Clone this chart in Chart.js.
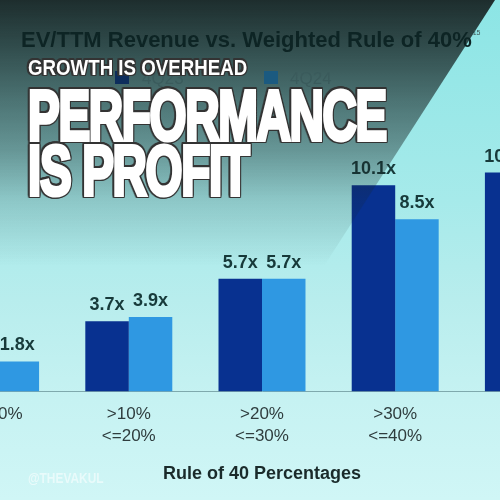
<!DOCTYPE html>
<html>
<head>
<meta charset="utf-8">
<script src="https://cdn.jsdelivr.net/npm/chart.js@4.4.1/dist/chart.umd.min.js"></script>
<style>
  html, body { margin: 0; padding: 0; }
  body {
    width: 500px; height: 500px; overflow: hidden; position: relative;
    background: linear-gradient(to bottom, #8ce5e5 0%, #a6eaea 40%, #b8eded 60%, #c6f2f2 80%, #d0f6f6 100%);
    font-family: 'Liberation Sans', Arial, sans-serif;
  }
  #chart-wrap { position: absolute; left: -71px; top: 0; width: 666px; height: 500px; }
  #shade {
    position: absolute; left: 0; top: 0; width: 500px; height: 280px;
    clip-path: polygon(0 0, 495px 0, 315px 280px, 0 280px);
    background: linear-gradient(to bottom,
      rgba(25,38,38,0.96) 0%, rgba(25,38,38,0.82) 15%, rgba(25,38,38,0.6) 36%,
      rgba(25,38,38,0.42) 54%, rgba(25,38,38,0.18) 71%, rgba(25,38,38,0) 95%);
  }
  #title {
    position: absolute; left: 21px; top: 29px; white-space: nowrap;
    font: bold 22px/1 'Liberation Sans', Arial, sans-serif; color: #0d2424;
  }
  #title sup { font-size: 7px; font-weight: normal; color: #3e5656; vertical-align: 12px; margin-left: 1px; }
  .lg-box { position: absolute; width: 14px; height: 13px; top: 71px; }
  .lg-text { position: absolute; top: 70px; font: 17px/1 'Liberation Sans', Arial, sans-serif; color: #3b5b5c; }
  .poster { position: absolute; color: #fff; white-space: nowrap;
    font-family: 'Liberation Sans', Arial, sans-serif; font-weight: bold; transform-origin: 0 0;
    filter: drop-shadow(1.2px 0 0 #333) drop-shadow(-1.2px 0 0 #333) drop-shadow(0 1.2px 0 #333) drop-shadow(0 -1.2px 0 #333);
  }
  #kicker { left: 28px; top: 57px; font-size: 22px; line-height: 1; transform: scaleX(0.85); }
  #headline { left: 28px; top: 88px; font-size: 71px; line-height: 55px; letter-spacing: -2px;
    -webkit-text-stroke: 4px #fff; transform: scaleX(0.67); }
  #tag { position: absolute; left: 28px; top: 471px; font: bold 14px/1 'Liberation Sans', sans-serif;
    color: rgba(255,255,255,0.55); transform: scaleX(0.85); transform-origin: 0 0; }
</style>
</head>
<body>
<div id="chart-wrap"><canvas id="chart"></canvas></div>
<div id="shade"></div>
<div id="title">EV/TTM Revenue vs. Weighted Rule of 40%<sup>15</sup></div>
<div class="lg-box" style="left:115px;background:#0d2d5c"></div>
<div class="lg-text" style="left:142px">4Q23</div>
<div class="lg-box" style="left:264px;background:#1b5a80"></div>
<div class="lg-text" style="left:290px">4Q24</div>
<div class="poster" id="kicker">GROWTH IS OVERHEAD</div>
<div class="poster" id="headline">PERFORMANCE<br>IS PROFIT</div>
<div id="tag">@THEVAKUL</div>
<script>
// Data
const categories = ['<=10%', ['>10%', '<=20%'], ['>20%', '<=30%'], ['>30%', '<=40%'], '>40%'];
const seriesNames = ['4Q23', '4Q24'];
const values4Q23 = [1.4, 3.7, 5.7, 10.1, 10.7];
const values4Q24 = [1.8, 3.9, 5.7, 8.5, 11.2];
const axisTitle = 'Rule of 40 Percentages';

// value labels above each bar ("3.7x")
const valueLabels = {
    id: 'valueLabels',
    afterDatasetsDraw(chart) {
        const ctx = chart.ctx;
        ctx.save();
        ctx.font = "bold 18px 'Liberation Sans', Arial, sans-serif";
        ctx.fillStyle = '#173a3a';
        ctx.textAlign = 'center';
        ctx.textBaseline = 'alphabetic';
        chart.data.datasets.forEach((ds, i) => {
            chart.getDatasetMeta(i).data.forEach((bar, j) => {
                ctx.fillText(ds.data[j].toFixed(1) + 'x', bar.x, bar.y - 11);
            });
        });
        ctx.restore();
    }
};

Chart.defaults.font.family = "'Liberation Sans', Arial, sans-serif";

new Chart(document.getElementById('chart'), {
    type: 'bar',
    data: {
        labels: categories,
        datasets: [
            { label: seriesNames[0], data: values4Q23, backgroundColor: '#083190' },
            { label: seriesNames[1], data: values4Q24, backgroundColor: '#2f98e2' }
        ]
    },
    options: {
        responsive: true,
        maintainAspectRatio: false,
        animation: false,
        layout: { padding: { top: 145, bottom: 15, left: 0, right: 0 } },
        datasets: { bar: { categoryPercentage: 0.653, barPercentage: 1 } },
        plugins: { legend: { display: false }, title: { display: false }, tooltip: { enabled: false } },
        scales: {
            x: {
                grid: { display: false },
                border: { display: true, color: '#7fa9ad', width: 1 },
                ticks: {
                    autoSkip: false, maxRotation: 0, padding: 4, color: '#2f3d3e',
                    font: { size: 17, lineHeight: 1.3 }
                },
                title: {
                    display: true, text: axisTitle, color: '#1a2a2a',
                    font: { size: 18, weight: 'bold' }, padding: { top: 12, bottom: 0 }
                }
            },
            y: { display: false, min: 0.4, max: 12 }
        }
    },
    plugins: [valueLabels]
});
</script>
</body>
</html>
